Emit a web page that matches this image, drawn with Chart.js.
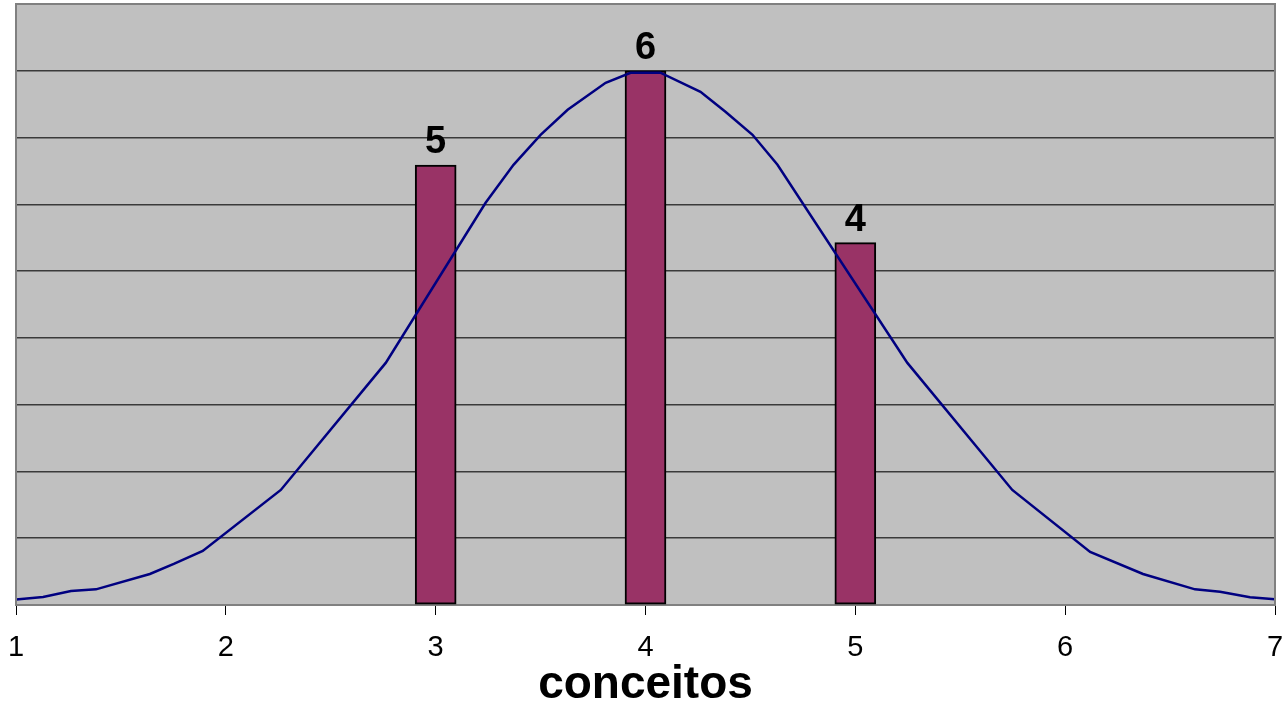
<!DOCTYPE html>
<html>
<head>
<meta charset="utf-8">
<script src="https://cdn.jsdelivr.net/npm/chart.js@4.4.1/dist/chart.umd.min.js"></script>
<style>
  html, body { margin: 0; padding: 0; background: #ffffff; }
  #wrap { width: 1284px; height: 706px; position: relative; }
</style>
</head>
<body>
<div id="wrap"><canvas id="c" width="1284" height="706"></canvas></div>
<script>
// ---- data ----
const barX = [3, 4, 5];
const barY = [4.94, 6.0, 4.07];
const barLabels = ['5', '6', '4'];

const curveX = [1.000, 1.129, 1.262, 1.381, 1.638, 1.752, 1.890, 2.262, 2.762, 3.238, 3.371, 3.500, 3.629, 3.810, 3.929,
                4.071, 4.262, 4.381, 4.510, 4.629, 5.248, 5.748, 6.119, 6.371, 6.619, 6.738, 6.881, 7.000];
const curveY = [0.062, 0.090, 0.157, 0.176, 0.348, 0.461, 0.607, 1.292, 2.719, 4.517, 4.944, 5.281, 5.562, 5.865, 5.978,
                5.978, 5.764, 5.539, 5.281, 4.944, 2.719, 1.292, 0.596, 0.348, 0.176, 0.149, 0.087, 0.064];

const xMin = 1, xMax = 7, xStep = 1;
const yMin = 0, yMax = 6.75, yStep = 0.75;
const axisTitle = 'conceitos';

const FONT = "'Liberation Sans', Arial, sans-serif";

const barData = barX.map((x, i) => ({ x: x, y: barY[i] }));
const lineData = curveX.map((x, i) => ({ x: x, y: curveY[i] }));

const plotBg = {
  id: 'plotBg',
  beforeDraw(chart) {
    const { ctx, chartArea: a } = chart;
    ctx.save();
    ctx.fillStyle = '#C0C0C0';
    ctx.fillRect(a.left, a.top, a.right - a.left, a.bottom - a.top);
    ctx.restore();
  },
  afterDraw(chart) {
    const { ctx, chartArea: a } = chart;
    ctx.save();
    ctx.strokeStyle = '#808080';
    ctx.lineWidth = 2;
    ctx.beginPath();
    ctx.moveTo(a.left, a.bottom);
    ctx.lineTo(a.left, a.top);
    ctx.lineTo(a.right, a.top);
    ctx.lineTo(a.right, a.bottom);
    ctx.stroke();
    ctx.restore();
  }
};

const barLabelPlugin = {
  id: 'barLabelPlugin',
  afterDatasetsDraw(chart) {
    const { ctx } = chart;
    const meta = chart.getDatasetMeta(0);
    ctx.save();
    ctx.fillStyle = '#000000';
    ctx.font = "bold 38px " + FONT;
    ctx.textAlign = 'center';
    ctx.textBaseline = 'alphabetic';
    meta.data.forEach((el, i) => {
      ctx.fillText(barLabels[i], el.x, el.y - 12);
    });
    ctx.restore();
  }
};

new Chart(document.getElementById('c'), {
  type: 'bar',
  data: {
    datasets: [
      {
        type: 'bar',
        label: 'frequência',
        data: barData,
        backgroundColor: '#993366',
        borderColor: '#000000',
        borderWidth: 2,
        borderSkipped: false,
        barThickness: 41,
        order: 2
      },
      {
        type: 'line',
        label: 'curva normal',
        data: lineData,
        borderColor: '#000080',
        borderWidth: 2.5,
        pointRadius: 0,
        tension: 0,
        fill: false,
        order: 1
      }
    ]
  },
  options: {
    responsive: false,
    animation: false,
    devicePixelRatio: 1,
    layout: { padding: { left: 16, right: 9, top: 4, bottom: 0 } },
    plugins: {
      legend: { display: false },
      tooltip: { enabled: false },
      title: { display: false }
    },
    scales: {
      x: {
        type: 'linear',
        min: xMin,
        max: xMax,
        offset: false,
        ticks: {
          stepSize: xStep,
          color: '#000000',
          font: { family: FONT, size: 29 },
          padding: 16,
          maxRotation: 0,
          autoSkip: false
        },
        grid: {
          offset: false,
          drawOnChartArea: false,
          drawTicks: true,
          tickLength: 10,
          tickColor: '#000000',
          tickWidth: 1
        },
        border: { display: true, color: '#808080', width: 2 },
        title: {
          display: true,
          text: axisTitle,
          color: '#000000',
          font: { family: FONT, size: 46, weight: 'bold' },
          padding: { top: 0, bottom: -7 }
        },
        afterFit(scale) {
          scale.height = 101;
          scale.paddingLeft = 0;
          scale.paddingRight = 0;
        }
      },
      y: {
        min: yMin,
        max: yMax,
        ticks: { display: false, stepSize: yStep },
        grid: {
          color: '#3a3a3a',
          lineWidth: 1.5,
          drawTicks: false
        },
        border: { display: false }
      }
    }
  },
  plugins: [plotBg, barLabelPlugin]
});
</script>
</body>
</html>
